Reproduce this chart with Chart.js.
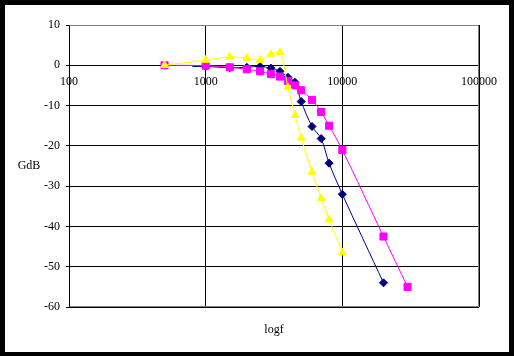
<!DOCTYPE html>
<html><head><meta charset="utf-8">
<script src="https://cdn.jsdelivr.net/npm/chart.js@4/dist/chart.umd.min.js"></script>
<style>html,body{margin:0;padding:0;background:#fff}#wrap{width:514px;height:356px}</style>
</head><body><div id="wrap"><canvas id="c" width="514" height="356"></canvas></div>
<script>
const xTicks = [100, 1000, 10000, 100000];
const yMin = -60, yMax = 10, yStep = 10;
const xTitle = 'logf';
const yTitle = 'GdB';

const blueF = [800, 1000, 1500, 2000, 2500, 3000, 3500, 4000, 4500, 5000, 6000, 7000, 8000, 10000, 20000];
const blueG = [-0.3, -0.3, -0.6, -0.5, -0.3, -0.7, -1.5, -3.0, -4.2, -9.0, -15.2, -18.2, -24.3, -32.0, -54.0];

const pinkF = [500, 1000, 1500, 2000, 2500, 3000, 3500, 4000, 4500, 5000, 6000, 7000, 8000, 10000, 20000, 30000];
const pinkG = [0, -0.1, -0.5, -1.0, -1.5, -2.2, -2.8, -3.9, -5.0, -6.2, -8.6, -11.6, -15.0, -21.0, -42.5, -55.0];

const yellF = [500, 1000, 1500, 2000, 2500, 3000, 3500, 4000, 4500, 5000, 6000, 7000, 8000, 10000];
const yellG = [0, 1.3, 2.1, 1.8, 1.3, 2.7, 3.2, -5.5, -12.4, -18.0, -26.5, -33.0, -38.3, -46.5];

const pts = (xs, ys) => xs.map((x, i) => ({x: x, y: ys[i]}));
const FONT = {family: '"Liberation Serif", "Times New Roman", serif', size: 12};

const framePlugin = {
  id: 'frame',
  beforeDraw(chart) {
    const ctx = chart.ctx, W = chart.width, H = chart.height;
    ctx.save();
    ctx.fillStyle = '#000';
    ctx.fillRect(0, 0, W, H);
    ctx.fillStyle = '#fff';
    ctx.fillRect(5, 5, W - 10, H - 9);
    ctx.restore();
  },
  beforeDatasetsDraw(chart) {
    const ctx = chart.ctx, a = chart.chartArea;
    const l = Math.round(a.left) + 0.5, r = Math.round(a.right) - 0.5;
    const t = Math.round(a.top) + 0.5, b = Math.round(a.bottom) - 0.5;
    ctx.save();
    ctx.lineWidth = 1;
    ctx.strokeStyle = '#808080';
    ctx.beginPath();
    ctx.moveTo(l, t); ctx.lineTo(r, t); ctx.lineTo(r, b); ctx.lineTo(l, b);
    ctx.stroke();
    ctx.strokeStyle = '#000';
    ctx.beginPath();
    ctx.moveTo(l, t); ctx.lineTo(l, b);
    ctx.stroke();
    ctx.restore();
  },
  afterDraw(chart) {
    const ctx = chart.ctx, a = chart.chartArea;
    ctx.save();
    ctx.fillStyle = '#000';
    ctx.font = FONT.size + 'px ' + FONT.family;
    ctx.textAlign = 'center';
    ctx.textBaseline = 'middle';
    ctx.fillText(yTitle, 29, (a.top + a.bottom) / 2);
    ctx.fillText(xTitle, (a.left + a.right) / 2, 330);
    ctx.restore();
  }
};

const ds = (label, data, color, style, radius) => ({
  label, data,
  borderColor: color, backgroundColor: color,
  pointBackgroundColor: color, pointBorderColor: color,
  borderWidth: 1, pointBorderWidth: 1,
  pointStyle: style, pointRadius: radius, pointHoverRadius: radius,
  tension: 0.3, fill: false
});

new Chart(document.getElementById('c'), {
  type: 'line',
  data: {
    datasets: [
      ds('yellow', pts(yellF, yellG), '#FFFF00', 'triangle', 4.5),
      ds('pink', pts(pinkF, pinkG), '#FF00FF', 'rect', 5),
      Object.assign(ds('blue', pts(blueF, blueG), '#000080', 'rectRot', 4), {
        pointRadius: c => (c.dataIndex === 0 ? 0 : 4)
      })
    ]
  },
  options: {
    responsive: false,
    animation: false,
    devicePixelRatio: 1,
    layout: {padding: {left: 5, top: 25, right: 35, bottom: 49}},
    plugins: {legend: {display: false}, tooltip: {enabled: false}},
    scales: {
      x: {
        type: 'logarithmic',
        position: {y: 0},
        min: xTicks[0], max: xTicks[xTicks.length - 1],
        afterBuildTicks: s => { s.ticks = xTicks.map(v => ({value: v, major: true})); },
        afterFit: s => { s.height = 0; },
        grid: {color: '#000', lineWidth: 1, drawTicks: false},
        border: {display: true, color: '#000', width: 1},
        ticks: {color: '#000', font: FONT, padding: 9, maxRotation: 0, autoSkip: false,
                callback: v => String(v)}
      },
      y: {
        min: yMin, max: yMax,
        afterFit: s => { s.width = 64; },
        grid: {color: '#000', lineWidth: 1, drawTicks: true, tickLength: 3},
        border: {display: true, color: '#000', width: 1},
        ticks: {color: '#000', font: FONT, padding: 6, stepSize: yStep}
      }
    }
  },
  plugins: [framePlugin]
});
</script>
</body></html>
